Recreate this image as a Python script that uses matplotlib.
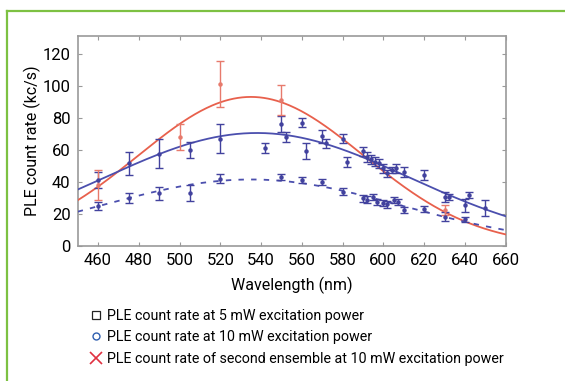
import numpy as np
import matplotlib

matplotlib.use("Agg")
import matplotlib.pyplot as plt
from matplotlib.lines import Line2D

plt.rcParams["font.family"] = ["Roboto", "DejaVu Sans"]

# PLE count rate at 10 mW (upper blue series)
wl_10mw = [460, 475, 490, 505, 520, 542, 550, 552, 560, 562, 570, 572, 580, 582,
           590, 592, 594, 596, 598, 600, 602, 604, 606, 610, 620, 630, 632, 640, 642, 650]
rate_10mw = [41, 51.5, 57.7, 60, 67, 61, 76.4, 68, 77, 59, 68.5, 64, 67, 52.5,
             59, 55.6, 54, 52.7, 51.5, 48.4, 45.3, 47.3, 48.4, 46.3, 44.2, 30.7, 30.7, 25.5, 31.8, 23.5]
err_10mw = [5, 7, 9, 5, 9, 3, 5, 3, 3, 5, 4, 3, 3, 3,
            3, 3, 3, 3, 3, 3, 2, 2, 3, 3, 3, 3, 2, 4, 2, 5]

# PLE count rate at 5 mW (lower blue series)
wl_5mw = [460, 475, 490, 505, 520, 550, 560, 570, 580, 590, 592, 595, 597, 600,
          602, 605, 607, 610, 620, 630, 640]
rate_5mw = [25, 30, 33, 33, 42, 43, 41, 40, 34, 29.7, 29, 30.7, 27.6, 27,
            26, 28.6, 27.6, 22.4, 23, 18.3, 16.6]
err_5mw = [2.5, 3, 4, 5, 3, 2, 2, 2, 2, 2, 2, 2, 2, 2,
           2, 2, 2, 2, 2, 3, 1.5]

# second ensemble at 10 mW (red series)
wl_second = [460, 500, 520, 550, 630]
rate_second = [38, 68, 101, 91, 22.4]
err_second = [9.5, 8, 14.5, 9.5, 3]

# Gaussian fit parameters: (peak, centre, sigma)
fit_10mw = (70.5, 538, 74.7)
fit_5mw = (41.5, 535, 73.9)
fit_second = (93, 535, 55.3)

legend_labels = [
    "PLE count rate at 5 mW excitation power",
    "PLE count rate at 10 mW excitation power",
    "PLE count rate of second ensemble at 10 mW excitation power",
]

BLUE = "#42429e"
BLUE_LINE = "#4b4fae"
RED = "#e8604c"
RED_ERR = "#e77a6c"


def gauss(x, peak, centre, sigma):
    return peak * np.exp(-((x - centre) ** 2) / (2 * sigma**2))


fig = plt.figure(figsize=(5.65, 3.81), dpi=100)
ax = fig.add_axes([0.1375, 0.3543, 0.7575, 0.5512])

x_fit = np.linspace(450, 660, 300)
ax.plot(x_fit, gauss(x_fit, *fit_second), color=RED, lw=1.3, zorder=3)
ax.plot(x_fit, gauss(x_fit, *fit_10mw), color=BLUE_LINE, lw=1.3, zorder=3)
ax.plot(x_fit, gauss(x_fit, *fit_5mw), color=BLUE_LINE, lw=1.3, ls=(0, (3, 4)), zorder=3)

ebar_kw = dict(fmt="o", ms=2.2, capsize=2.8, elinewidth=1.0, capthick=1.0, zorder=4)
ax.errorbar(wl_10mw, rate_10mw, yerr=err_10mw, color=BLUE, **ebar_kw)
ax.errorbar(wl_5mw, rate_5mw, yerr=err_5mw, color=BLUE, **ebar_kw)
ax.errorbar(wl_second, rate_second, yerr=err_second, color=RED_ERR, **ebar_kw)

ax.set_xlim(450, 660)
ax.set_ylim(0, 131)
ax.set_xticks(range(460, 661, 20))
ax.set_yticks(range(0, 121, 20))
ax.tick_params(direction="in", length=3, color="#999999", labelsize=12,
               top=True, right=True, labeltop=False, labelright=False, pad=5)
for spine in ax.spines.values():
    spine.set_color("#9a9a9a")
    spine.set_linewidth(1.2)
ax.set_xlabel("Wavelength (nm)", fontsize=11.5, labelpad=6)
ax.set_ylabel("PLE count rate (kc/s)", fontsize=11.5, labelpad=1)

# legend below the axes
handles = [
    Line2D([], [], marker="s", ls="none", mfc="none", mec="#222222", ms=5.5, mew=0.9),
    Line2D([], [], marker="o", ls="none", mfc="none", mec="#2f5fb0", ms=5, mew=1.0),
    Line2D([], [], marker="x", ls="none", color="#e03040", ms=8, mew=1.2),
]
fig.legend(handles, legend_labels, loc="upper left", bbox_to_anchor=(0.162, 0.19),
           frameon=False, fontsize=10.3, handlelength=0.6, handletextpad=0.5,
           labelspacing=0.55, borderaxespad=0, borderpad=0)

# green frame on the left and top
fig.add_artist(Line2D([7 / 565, 7 / 565], [0, 1 - 11 / 381], color="#7dc142", lw=1.6,
                      transform=fig.transFigure))
fig.add_artist(Line2D([7 / 565, 1], [1 - 11 / 381, 1 - 11 / 381], color="#7dc142", lw=1.6,
                      transform=fig.transFigure))

fig.savefig("out.png", dpi=100, facecolor="white")
